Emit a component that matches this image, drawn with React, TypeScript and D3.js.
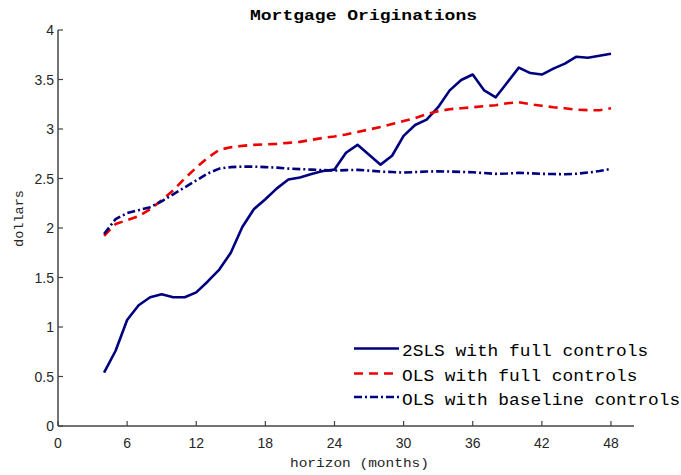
import React from "react";
import * as d3 from "d3";

const horizons: number[] = d3.range(4, 49);

const tslsFull: number[] = [
  0.54, 0.76, 1.07, 1.22, 1.30, 1.33, 1.30, 1.30, 1.35, 1.46, 1.58, 1.75,
  2.01, 2.19, 2.29, 2.40, 2.49, 2.51, 2.545, 2.575, 2.59, 2.76, 2.84, 2.74,
  2.64, 2.73, 2.93, 3.04, 3.095, 3.22, 3.39, 3.495, 3.55, 3.39, 3.32, 3.47,
  3.62, 3.565, 3.55, 3.61, 3.66, 3.73, 3.72, 3.74, 3.76,
];

const olsFull: number[] = [
  1.92, 2.04, 2.08, 2.12, 2.19, 2.28, 2.38, 2.50, 2.61, 2.71, 2.79, 2.815,
  2.83, 2.84, 2.845, 2.85, 2.86, 2.87, 2.89, 2.91, 2.925, 2.945, 2.97, 2.995,
  3.02, 3.05, 3.08, 3.11, 3.15, 3.18, 3.20, 3.21, 3.22, 3.23, 3.24, 3.26,
  3.27, 3.25, 3.235, 3.22, 3.21, 3.195, 3.19, 3.19, 3.21,
];

const olsBaseline: number[] = [
  1.94, 2.09, 2.15, 2.18, 2.21, 2.27, 2.34, 2.41, 2.48, 2.55, 2.60, 2.615,
  2.62, 2.62, 2.615, 2.61, 2.60, 2.595, 2.59, 2.585, 2.58, 2.585, 2.587, 2.58,
  2.57, 2.565, 2.56, 2.565, 2.57, 2.573, 2.57, 2.567, 2.563, 2.555, 2.547, 2.55,
  2.557, 2.553, 2.547, 2.545, 2.543, 2.548, 2.56, 2.575, 2.597,
];

const xTicks: number[] = [0, 6, 12, 18, 24, 30, 36, 42, 48];
const yTicks: number[] = [0, 0.5, 1, 1.5, 2, 2.5, 3, 3.5, 4];

const seriesNames: string[] = [
  "2SLS with full controls",
  "OLS with full controls",
  "OLS with baseline controls",
];
const seriesColors: string[] = ["#00007f", "#ee0000", "#00007f"];
const seriesDash: string[] = ["none", "9,6", "8,3,2,3"];

const title = "Mortgage Originations";
const xLabel = "horizon (months)";
const yLabel = "dollars";

export default function App() {
  const W = 681;
  const H = 475;
  const x = d3.scaleLinear().domain([0, 50]).range([58, 634]);
  const y = d3.scaleLinear().domain([0, 4]).range([426, 30]);
  const line = d3
    .line<number>()
    .x((_, i) => x(horizons[i]))
    .y((d) => y(d));
  const data = [tslsFull, olsFull, olsBaseline];
  const axisColor = "#444";
  const textColor = "#262626";
  const mono = "'Liberation Mono', 'DejaVu Sans Mono', monospace";
  const sans = "'Liberation Sans', Arial, sans-serif";

  const legendX0 = 354;
  const legendX1 = 399;
  const legendTextX = 402;
  const legendLineY = [348.5, 373.5, 397];
  const legendTextY = [356, 380.5, 405];

  return (
    <svg
      width={W}
      height={H}
      style={{ position: "absolute", left: 0, top: 0, background: "#fff" }}
    >
      <rect x={0} y={0} width={W} height={H} fill="#fff" />
      {/* series */}
      {data.map((d, i) => (
        <path
          key={i}
          d={line(d) || ""}
          fill="none"
          stroke={seriesColors[i]}
          strokeWidth={2.6}
          strokeDasharray={seriesDash[i]}
          strokeLinejoin="round"
        />
      ))}
      {/* axes */}
      <line x1={x(0)} x2={x(0)} y1={y(0)} y2={y(4)} stroke={axisColor} strokeWidth={1.5} />
      <line x1={x(0)} x2={x(50)} y1={y(0)} y2={y(0)} stroke={axisColor} strokeWidth={1.5} />
      {yTicks.map((t) => (
        <g key={"y" + t}>
          <line x1={x(0)} x2={x(0) + 5} y1={y(t)} y2={y(t)} stroke={axisColor} strokeWidth={1.2} />
          <text
            x={x(0) - 4}
            y={y(t)}
            dy="0.36em"
            textAnchor="end"
            fontFamily={sans}
            fontSize={14}
            fill={textColor}
          >
            {String(t)}
          </text>
        </g>
      ))}
      {xTicks.map((t) => (
        <g key={"x" + t}>
          <line x1={x(t)} x2={x(t)} y1={y(0)} y2={y(0) - 5} stroke={axisColor} strokeWidth={1.2} />
          <text
            x={x(t)}
            y={448}
            textAnchor="middle"
            fontFamily={sans}
            fontSize={14}
            fill={textColor}
          >
            {String(t)}
          </text>
        </g>
      ))}
      {/* title & labels */}
      <text
        x={363.5}
        y={20}
        textAnchor="middle"
        fontFamily={mono}
        fontWeight="bold"
        fontSize={15}
        textLength={227}
        lengthAdjust="spacingAndGlyphs"
        fill="#000"
      >
        {title}
      </text>
      <text
        x={359.5}
        y={467}
        textAnchor="middle"
        fontFamily={mono}
        fontSize={13}
        textLength={139}
        lengthAdjust="spacingAndGlyphs"
        fill={textColor}
      >
        {xLabel}
      </text>
      <text
        transform={`translate(23,218.5) rotate(-90)`}
        textAnchor="middle"
        fontFamily={mono}
        fontSize={13}
        textLength={57}
        lengthAdjust="spacingAndGlyphs"
        fill={textColor}
      >
        {yLabel}
      </text>
      {/* legend */}
      {seriesNames.map((n, i) => (
        <g key={"l" + i}>
          <line
            x1={legendX0}
            x2={legendX1}
            y1={legendLineY[i]}
            y2={legendLineY[i]}
            stroke={seriesColors[i]}
            strokeWidth={2.6}
            strokeDasharray={seriesDash[i]}
          />
          <text
            x={legendTextX}
            y={legendTextY[i]}
            fontFamily={mono}
            fontSize={16}
            textLength={n.length * 10.7}
            lengthAdjust="spacingAndGlyphs"
            fill="#000"
          >
            {n}
          </text>
        </g>
      ))}
    </svg>
  );
}
